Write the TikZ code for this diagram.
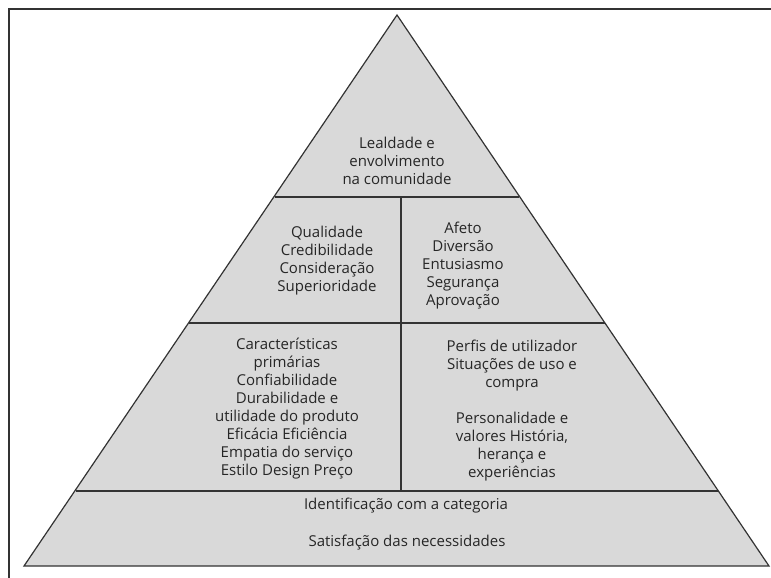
\documentclass[tikz,border=0pt]{standalone}
\usepackage{fontspec}
\setmainfont{Open Sans}
\definecolor{pyrfill}{HTML}{D9D9D9}
\definecolor{pyrline}{HTML}{333333}
\tikzset{
  band/.style={draw=pyrline, line width=1.2pt},
  frameline/.style={draw=pyrline, line width=1.6pt},
  lbl/.style={align=center, inner sep=0pt, text=black!85,
    font=\fontsize{15}{18}\selectfont}
}
\begin{document}
\begin{tikzpicture}[x=1pt,y=-1pt]
\useasboundingbox (0,0) rectangle (771,578);
% frame
\draw[frameline] (9,578) -- (9,9) -- (771,9);
% pyramid
\coordinate (apex) at (397,15);
\coordinate (bl) at (24,566);
\coordinate (br) at (769,566);
\fill[pyrfill] (apex) -- (bl) -- (br) -- cycle;
\coordinate (l1) at (275.2,197); \coordinate (r1) at (518.8,197);
\coordinate (l2) at (189,323);   \coordinate (r2) at (605,323);
\coordinate (l3) at (76,491);    \coordinate (r3) at (718,491);
\coordinate (vt) at (401,197);   \coordinate (vb) at (401,491);
\draw[band] (l1) -- (r1);
\draw[band] (l2) -- (r2);
\draw[band] (l3) -- (r3);
\draw[band] (vt) -- (vb);
\draw[band, line join=miter] (apex) -- (bl) -- (br) -- cycle;
% texts
\node[lbl] (top) at (397,161) {Lealdade e\\envolvimento\\na comunidade};
\node[lbl] (b2l) at (327,260.5) {Qualidade\\Credibilidade\\Consideração\\Superioridade};
\node[lbl] (b2r) at (463,266) {Afeto\\Diversão\\Entusiasmo\\Segurança\\Aprovação};
\node[lbl] (b3l) at (287,409) {Características\\primárias\\Confiabilidade\\Durabilidade e\\utilidade do produto\\Eficácia Eficiência\\Empatia do serviço\\Estilo Design Preço};
\node[lbl] (b3r) at (512,410.5) {Perfis de utilizador\\Situações de uso e\\compra\\[18pt]Personalidade e\\valores História,\\herança e\\experiências};
\node[lbl] (b4a) at (406,506) {Identificação com a categoria};
\node[lbl] (b4b) at (407,543) {Satisfação das necessidades};
\end{tikzpicture}
\end{document}
